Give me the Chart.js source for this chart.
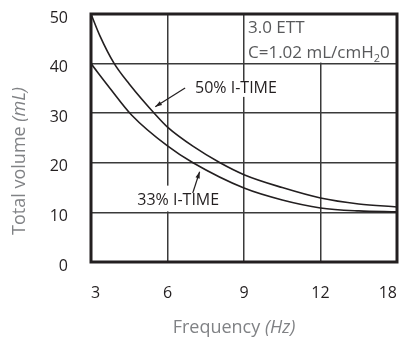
<!DOCTYPE html>
<html>
<head>
<meta charset="utf-8">
<script src="https://cdn.jsdelivr.net/npm/chart.js@4/dist/chart.umd.min.js"></script>
<style>
html,body{margin:0;padding:0;background:#fff;}
#wrap{width:404px;height:339px;position:relative;}
</style>
</head>
<body>
<div id="wrap"><canvas id="c" width="404" height="339"></canvas></div>
<script>
// ---- data ----
const xTickLabels = [3, 6, 9, 12, 18];          // Hz, equally spaced on the axis
const yTickValues = [0, 10, 20, 30, 40, 50];
const freq50 = [3, 3.35, 3.9, 4.5, 5.55, 6, 7.04, 8.06, 9, 10.5, 12, 15, 18];
const vol50  = [50, 45.6, 40.1, 35.9, 29.6, 27.2, 23.2, 20.0, 17.6, 15.0, 12.9, 11.7, 11.1];
const freq33 = [3, 3.75, 4.6, 6, 7, 9, 10.5, 12, 15, 18];
const vol33  = [40.0, 35.0, 29.6, 23.4, 20.0, 14.9, 12.5, 10.9, 10.3, 10.1];
const seriesNames = ['50% I-TIME', '33% I-TIME'];
const boxLines = ['3.0 ETT', 'C=1.02 mL/cmH', '2', '0'];

// map frequency (Hz) to axis position (axis ticks 3,6,9,12,18 equally spaced)
function hzToPos(hz){
  for(let i=0;i<xTickLabels.length-1;i++){
    const a=xTickLabels[i], b=xTickLabels[i+1];
    if(hz<=b || i===xTickLabels.length-2) return i+(hz-a)/(b-a);
  }
}
const toPts=(fs,vs)=>fs.map((f,i)=>({x:hzToPos(f),y:vs[i]}));

const FONT = '"Open Sans", "Noto Sans", sans-serif';
const INK = '#231f20';

const overlay = {
  id:'overlay',
  beforeDatasetsDraw(chart){
    const {ctx, scales:{x,y}} = chart;
    ctx.save();
    ctx.fillStyle='#fff';
    const bx0=x.getPixelForValue(2)+1, bx1=x.getPixelForValue(4);
    const by0=y.getPixelForValue(50), by1=y.getPixelForValue(40)-1;
    ctx.fillRect(bx0,by0,bx1-bx0,by1-by0);
    ctx.restore();
  },
  afterDatasetsDraw(chart){
    const {ctx, chartArea:ca, scales:{x,y}} = chart;
    ctx.save();
    // frame
    ctx.strokeStyle=INK; ctx.lineWidth=3;
    ctx.strokeRect(ca.left, ca.top, ca.right-ca.left, ca.bottom-ca.top);

    // info box text
    ctx.fillStyle='#58595b';
    ctx.textBaseline='middle'; ctx.textAlign='left';
    ctx.font='17px '+FONT;
    const tx = x.getPixelForValue(2)+4;
    ctx.fillText(boxLines[0], tx, y.getPixelForValue(47.2));
    const ly = y.getPixelForValue(42.2);
    ctx.fillText(boxLines[1], tx, ly);
    let w = ctx.measureText(boxLines[1]).width;
    ctx.font='11px '+FONT;
    ctx.fillText(boxLines[2], tx+w, ly+6);
    let w2 = ctx.measureText(boxLines[2]).width;
    ctx.font='17px '+FONT;
    ctx.fillText(boxLines[3], tx+w+w2, ly);

    // series labels
    ctx.font='16px '+FONT;
    const t50w = ctx.measureText(seriesNames[0]).width;
    const l50x = x.getPixelForValue(1.36), l50y=y.getPixelForValue(34.9);
    ctx.fillStyle='#fff';
    ctx.fillRect(l50x-2, l50y-8, t50w+4, 16);
    ctx.fillStyle=INK; ctx.textAlign='left';
    ctx.fillText(seriesNames[0], l50x, l50y);

    const t33w = ctx.measureText(seriesNames[1]).width;
    const c33x = x.getPixelForValue(1.14), c33y=y.getPixelForValue(12.4);
    ctx.fillStyle='#fff';
    ctx.fillRect(c33x-t33w/2-2, y.getPixelForValue(15.4), t33w+4, y.getPixelForValue(10)-y.getPixelForValue(15.4)-1);
    ctx.fillStyle=INK;
    ctx.textAlign='center';
    ctx.fillText(seriesNames[1], c33x, c33y);

    // arrows
    function arrow(x0,y0,x1,y1){
      const X0=x.getPixelForValue(x0), Y0=y.getPixelForValue(y0);
      const X1=x.getPixelForValue(x1), Y1=y.getPixelForValue(y1);
      ctx.strokeStyle=INK; ctx.fillStyle=INK; ctx.lineWidth=1.2;
      ctx.beginPath(); ctx.moveTo(X0,Y0); ctx.lineTo(X1,Y1); ctx.stroke();
      const a=Math.atan2(Y1-Y0,X1-X0), L=7, W=0.32;
      ctx.beginPath();
      ctx.moveTo(X1,Y1);
      ctx.lineTo(X1-L*Math.cos(a-W), Y1-L*Math.sin(a-W));
      ctx.lineTo(X1-L*Math.cos(a+W), Y1-L*Math.sin(a+W));
      ctx.closePath(); ctx.fill();
    }
    arrow(1.23, 35.1, 0.84, 31.3);
    arrow(1.33, 13.9, 1.42, 18.2);

    // axis titles
    ctx.fillStyle='#808285';
    ctx.textBaseline='middle';
    function mixed(parts, cx, cy){
      let total=0;
      parts.forEach(p=>{ctx.font=(p[1]?'italic ':'')+'18px '+FONT; total+=ctx.measureText(p[0]).width;});
      let cur=cx-total/2;
      ctx.textAlign='left';
      parts.forEach(p=>{ctx.font=(p[1]?'italic ':'')+'18px '+FONT; ctx.fillText(p[0],cur,cy); cur+=ctx.measureText(p[0]).width;});
    }
    mixed([['Frequency ',false],['(Hz)',true]], 234, 328);
    ctx.translate(20,161); ctx.rotate(-Math.PI/2);
    mixed([['Total volume ',false],['(mL)',true]], 0, 0);
    ctx.restore();
  }
};

function zeroPad(s){s.paddingTop=0;s.paddingBottom=0;s.paddingLeft=0;s.paddingRight=0;}

new Chart(document.getElementById('c'), {
  type:'line',
  data:{
    datasets:[
      {label:seriesNames[0], data:toPts(freq50,vol50)},
      {label:seriesNames[1], data:toPts(freq33,vol33)}
    ]
  },
  options:{
    responsive:false, animation:false, devicePixelRatio:1,
    layout:{padding:{top:14,right:7,left:0,bottom:0}},
    elements:{
      line:{borderColor:INK, borderWidth:1.6, tension:0.4, cubicInterpolationMode:'monotone', fill:false},
      point:{radius:0}
    },
    plugins:{legend:{display:false}, tooltip:{enabled:false}},
    scales:{
      x:{
        type:'linear', min:0, max:xTickLabels.length-1,
        afterFit(s){s.height=77; zeroPad(s);},
        afterBuildTicks(s){s.ticks=xTickLabels.map((_,i)=>({value:i}));},
        grid:{color:'#3a3a3a', lineWidth:1.5, drawTicks:false},
        border:{display:false},
        ticks:{padding:22, maxRotation:0, align:'inner', color:INK, font:{family:FONT,size:16}, callback:(v)=>xTickLabels[v]}
      },
      y:{
        type:'linear', min:yTickValues[0], max:yTickValues[yTickValues.length-1],
        afterFit(s){s.width=91; zeroPad(s);},
        afterBuildTicks(s){s.ticks=yTickValues.map(v=>({value:v}));},
        grid:{color:'#3a3a3a', lineWidth:1.5, drawTicks:false},
        border:{display:false},
        ticks:{padding:23, labelOffset:4, color:INK, font:{family:FONT,size:16}}
      }
    }
  },
  plugins:[overlay]
});
</script>
</body>
</html>
